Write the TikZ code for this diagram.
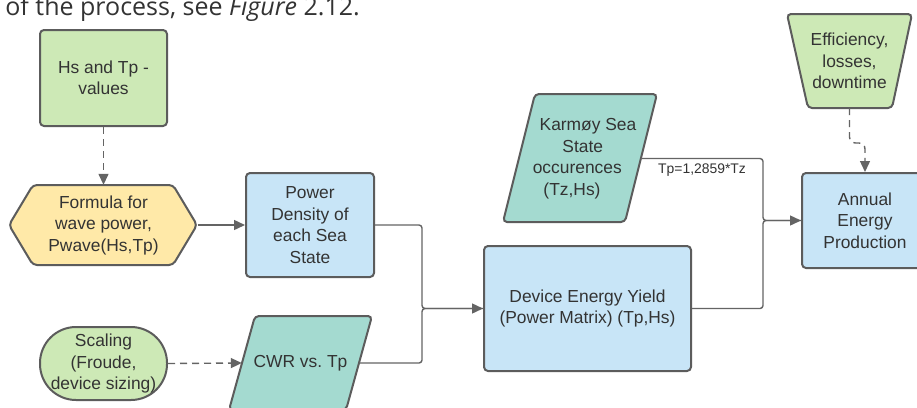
\documentclass[tikz,border=0pt]{standalone}
\usepackage{fontspec}
\setmainfont{Liberation Sans}
\newfontfamily\opensans{Open Sans}
\usetikzlibrary{arrows.meta}
\definecolor{cgreen}{RGB}{205,233,182}
\definecolor{cyellow}{RGB}{255,233,168}
\definecolor{cblue}{RGB}{200,229,247}
\definecolor{cteal}{RGB}{164,218,208}
\definecolor{cstroke}{RGB}{92,92,92}
\definecolor{ctext}{RGB}{51,51,51}
\definecolor{cline}{RGB}{100,100,100}
\begin{document}
\begin{tikzpicture}[x=1pt,y=-1pt,
  shapeline/.style={draw=cstroke,line width=2pt,rounded corners=4pt},
  txt/.style={text=ctext,align=center,font=\fontsize{17.4}{21.5}\selectfont,inner sep=0pt},
  boxnode/.style={shapeline,rectangle,txt},
  conn/.style={draw=cline,line width=1.4pt,rounded corners=3pt},
  arrowtip/.style={-{Triangle[length=11pt,width=10pt]}},
  dashln/.style={dash pattern=on 7pt off 5pt}
]
\path[use as bounding box, clip] (0,0) rectangle (917,407);
\fill[white] (0,0) rectangle (917,407);

% caption fragment at top (cut off by the page edge, as in the reference)
\node[anchor=base east, inner sep=0pt, text=ctext, font=\opensans\fontsize{25}{30}\selectfont] (cap) at (360,15) {of the process, see \textit{Figure} 2.12.};

% Hs and Tp values
\node[boxnode,fill=cgreen,minimum width=127pt,minimum height=96pt] (hs) at (103.5,78) {Hs and Tp -\\values};

% hexagon
\draw[shapeline,fill=cyellow] (103.5,185) -- (173,185) -- (197,225) -- (173,265) -- (33,265) -- (9,225) -- (33,185) -- cycle;
\node[txt,minimum width=188pt,minimum height=80pt] (hex) at (103.5,225) {Formula for\\wave power,\\Pwave(Hs,Tp)};

% power density
\node[boxnode,fill=cblue,minimum width=128pt,minimum height=104pt] (pd) at (310,225) {Power\\Density of\\each Sea\\State};

% scaling
\node[boxnode,fill=cgreen,rounded corners=36pt,minimum width=127pt,minimum height=73pt] (sc) at (103.5,363.5) {Scaling\\(Froude,\\device sizing)};

% CWR parallelogram
\draw[shapeline,fill=cteal] (313,316) -- (372,316) -- (346,410) -- (229,410) -- (255,316) -- cycle;
\node[txt,minimum width=117pt] (cwr) at (300.5,363) {CWR vs.\ Tp};

% Karmoy parallelogram
\draw[shapeline,fill=cteal] (596,94) -- (657,94) -- (625,222) -- (503,222) -- (535,94) -- cycle;
\node[txt,minimum width=122pt] (ks) at (580,158.5) {\kern16pt Karmøy Sea\\\kern5.4pt State\\occurences\kern5.4pt\\(Tz,Hs)\kern16pt};

% device energy yield
\node[boxnode,fill=cblue,minimum width=207pt,minimum height=125pt] (dey) at (587.5,308.5) {Device Energy Yield\\(Power Matrix) (Tp,Hs)};

% AEP
\node[boxnode,fill=cblue,minimum width=126pt,minimum height=95pt] (aep) at (865,220.5) {Annual\\Energy\\Production};

% efficiency trapezoid
\draw[shapeline,fill=cgreen] (850,14) -- (912,14) -- (892,108) -- (808,108) -- (787,14) -- cycle;
\node[txt,minimum width=105pt,minimum height=94pt] (eff) at (849.5,61) {Efficiency,\\losses,\\downtime};

% connectors
\coordinate (m1) at (422,308.5);
\coordinate (m2) at (763,220.5);
\coordinate (ej) at (849.5,143);

\draw[conn,dashln,arrowtip] (hs.south) -- (hex.north);
\draw[conn,arrowtip] (hex.east) -- (pd.west);
\draw[conn,dashln,arrowtip] (sc.east) -- (cwr.west);
\draw[conn] (cwr.east) -| (m1) -- (dey.west);
\draw[conn,arrowtip] (pd.east) -| (m1) -- (dey.west);
\draw[conn] (dey.east) -| (m2) -- (aep.west);
\draw[conn,arrowtip] (ks.east) -| (m2) -- (aep.west);
\draw[conn,dashln,arrowtip,rounded corners=6pt] (eff.south) -- (ej) -| (aep.north);

\node[anchor=base west, inner sep=0pt, text=ctext, font=\fontsize{13.9}{16}\selectfont] (lbl) at (658,173) {Tp=1,2859*Tz};
\end{tikzpicture}
\end{document}
